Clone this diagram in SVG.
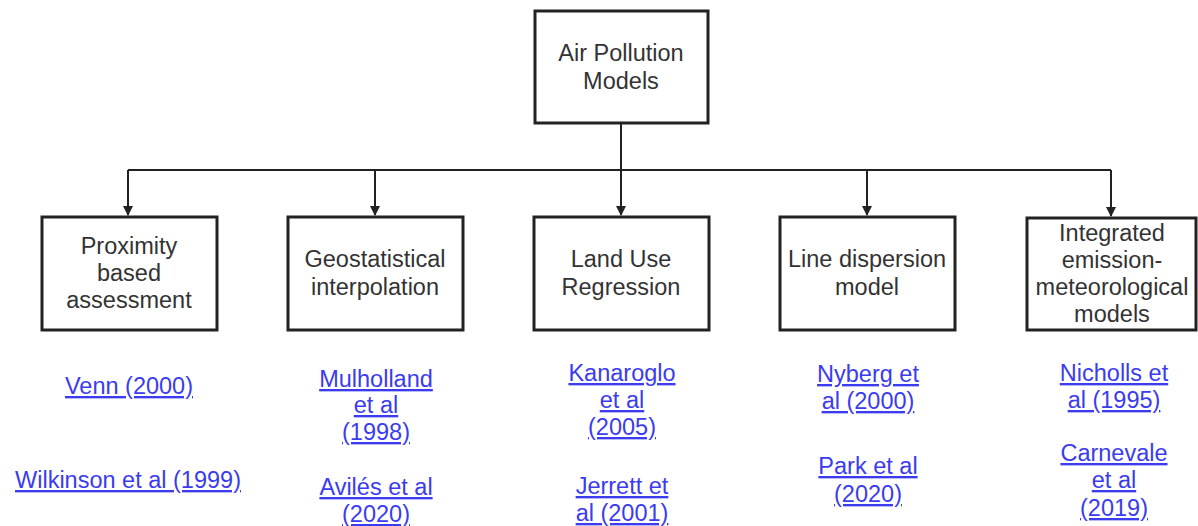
<svg xmlns="http://www.w3.org/2000/svg" width="1198" height="526" viewBox="0 0 1198 526">
<style>
.box{fill:#fff;stroke:#222;stroke-width:3}
.t{font-family:"Liberation Sans",Arial,sans-serif;font-size:23.5px;fill:#333;text-anchor:middle}
.l{font-family:"Liberation Sans",Arial,sans-serif;font-size:23.5px;fill:#3b3bef;text-anchor:middle;text-decoration:underline}
.c{fill:none;stroke:#222;stroke-width:2}
</style>
<defs>
<marker id="ah" markerWidth="10" markerHeight="10" refX="9" refY="5" orient="auto" markerUnits="userSpaceOnUse">
<path d="M0,0 L10,5 L0,10 Z" fill="#222"/>
</marker>
</defs>
<rect width="1198" height="526" fill="#fff"/>
<g id="connectors">
<path class="c" d="M621,123 V215" marker-end="url(#ah)"/>
<path class="c" d="M128,170 H1111"/>
<path class="c" d="M128,170 V215" marker-end="url(#ah)"/>
<path class="c" d="M375,170 V215" marker-end="url(#ah)"/>
<path class="c" d="M867,170 V215" marker-end="url(#ah)"/>
<path class="c" d="M1111,170 V216" marker-end="url(#ah)"/>
</g>
<g id="root">
<rect class="box" x="535" y="11" width="173" height="112"/>
<text class="t" x="621" y="61">Air Pollution</text>
<text class="t" x="621" y="89">Models</text>
</g>
<g id="proximity">
<rect class="box" x="42" y="217" width="175" height="113"/>
<text class="t" x="129" y="254">Proximity</text>
<text class="t" x="129" y="281">based</text>
<text class="t" x="129" y="308">assessment</text>
</g>
<g id="geostat">
<rect class="box" x="288" y="217" width="175" height="113"/>
<text class="t" x="375" y="267">Geostatistical</text>
<text class="t" x="375" y="295">interpolation</text>
</g>
<g id="lur">
<rect class="box" x="534" y="217" width="175" height="113"/>
<text class="t" x="621" y="267">Land Use</text>
<text class="t" x="621" y="295">Regression</text>
</g>
<g id="line">
<rect class="box" x="780" y="217" width="175" height="113"/>
<text class="t" x="867" y="267">Line dispersion</text>
<text class="t" x="867" y="295">model</text>
</g>
<g id="integrated">
<rect class="box" x="1027" y="218" width="169" height="112"/>
<text class="t" x="1112" y="241">Integrated</text>
<text class="t" x="1112" y="268">emission-</text>
<text class="t" x="1112" y="295">meteorological</text>
<text class="t" x="1112" y="322">models</text>
</g>
<g id="refs">
<text class="l" x="129" y="394">Venn (2000)</text>
<text class="l" x="128" y="488">Wilkinson et al (1999)</text>
<text class="l" x="376" y="387">Mulholland</text>
<text class="l" x="376" y="413">et al</text>
<text class="l" x="376" y="440">(1998)</text>
<text class="l" x="376" y="495">Avilés et al</text>
<text class="l" x="376" y="522">(2020)</text>
<text class="l" x="622" y="381">Kanaroglo</text>
<text class="l" x="622" y="408">et al</text>
<text class="l" x="622" y="435">(2005)</text>
<text class="l" x="622" y="494">Jerrett et</text>
<text class="l" x="622" y="521">al (2001)</text>
<text class="l" x="868" y="382">Nyberg et</text>
<text class="l" x="868" y="409">al (2000)</text>
<text class="l" x="868" y="474">Park et al</text>
<text class="l" x="868" y="502">(2020)</text>
<text class="l" x="1114" y="381">Nicholls et</text>
<text class="l" x="1114" y="408">al (1995)</text>
<text class="l" x="1114" y="461">Carnevale</text>
<text class="l" x="1114" y="488">et al</text>
<text class="l" x="1114" y="516">(2019)</text>
</g>
</svg>
